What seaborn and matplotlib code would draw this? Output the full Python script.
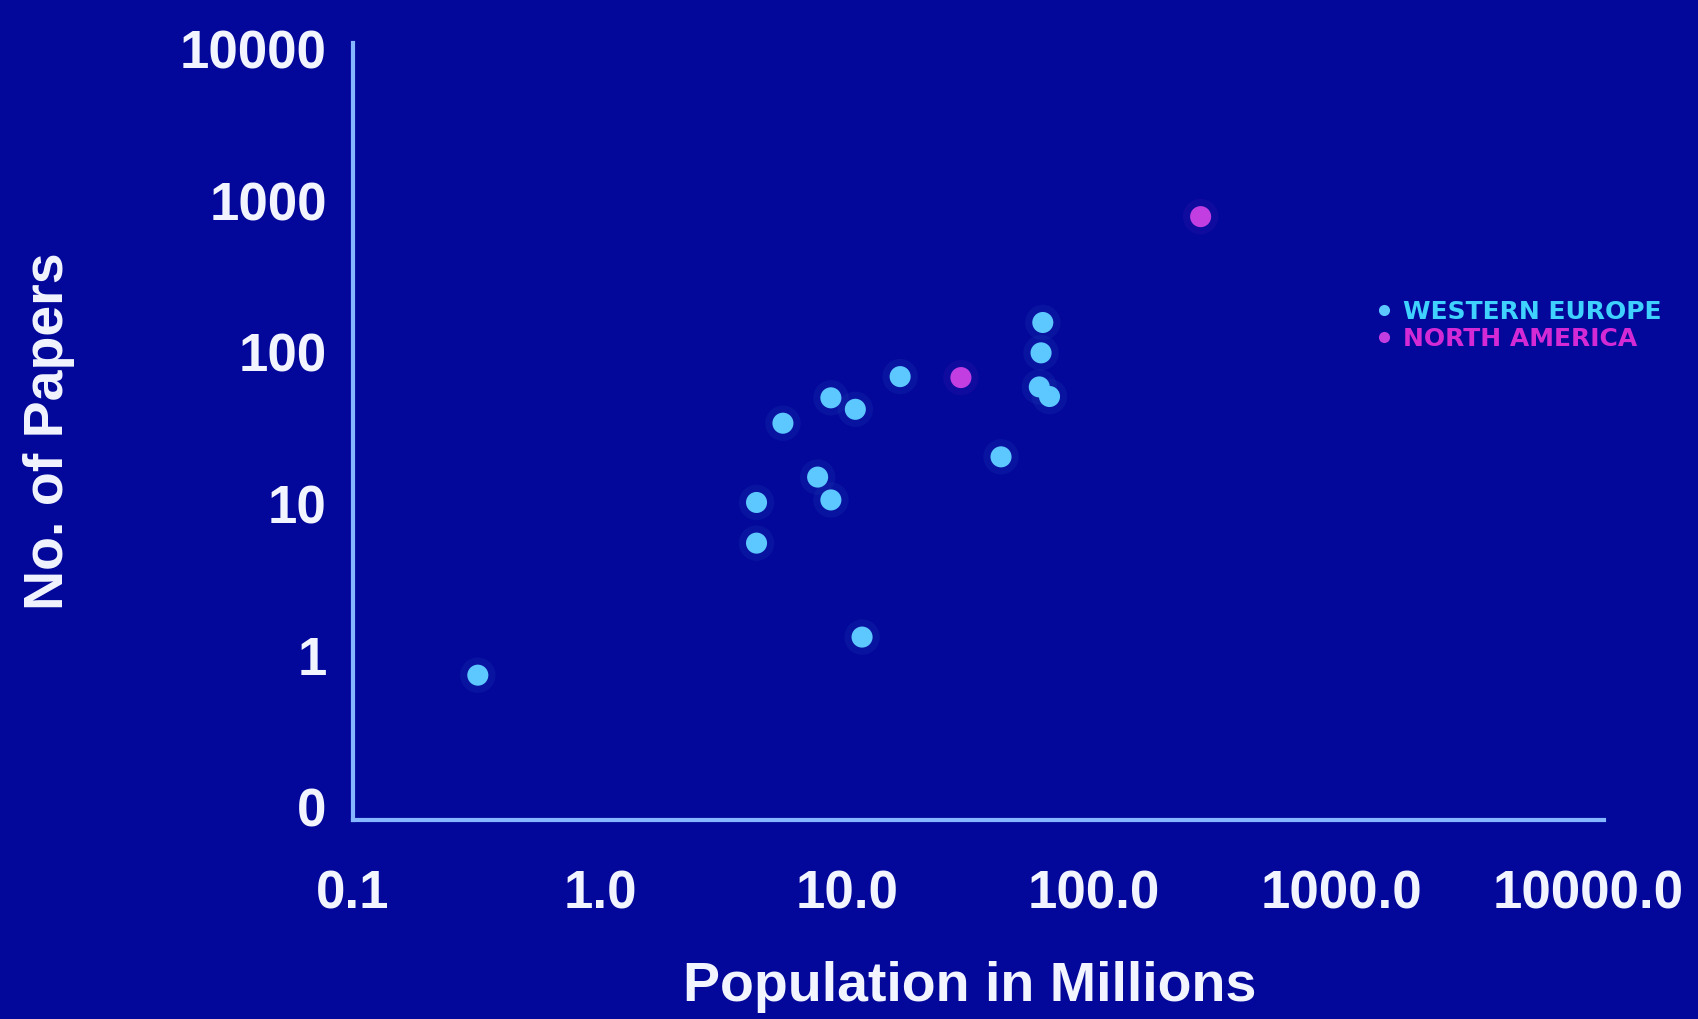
import matplotlib
matplotlib.use("Agg")
import matplotlib.pyplot as plt
import seaborn as sns
import pandas as pd
from matplotlib.lines import Line2D

# values (population in millions, number of papers)
europe_pop = [0.32, 4.3, 4.3, 5.5, 7.6, 8.6, 8.6, 10.8, 11.5, 16.4, 42.0, 62.0, 61.0, 60.0, 66.0]
europe_papers = [0.74, 10.2, 5.5, 34.0, 15.0, 50.0, 10.6, 42.0, 1.32, 69.0, 20.4, 157.0, 99.0, 59.0, 51.0]
america_pop = [28.9, 270.0]
america_papers = [68.0, 784.0]

regions = ["WESTERN EUROPE", "NORTH AMERICA"]
region_colors = ["#5cc8ff", "#c23ee0"]
text_colors = ["#3fd2ff", "#d42ad6"]

x_ticks = [0.1, 1, 10, 100, 1000, 10000]
x_tick_labels = ["0.1", "1.0", "10.0", "100.0", "1000.0", "10000.0"]
y_ticks = [0.1, 1, 10, 100, 1000, 10000]
y_tick_labels = ["0", "1", "10", "100", "1000", "10000"]

bg = "#03089a"
axis_col = "#86b6ff"

df = pd.DataFrame({
    "pop": europe_pop + america_pop,
    "papers": europe_papers + america_papers,
    "region": [regions[0]] * len(europe_pop) + [regions[1]] * len(america_pop),
})
palette = dict(zip(regions, region_colors))

sns.set_style("white")
plt.rcParams["font.family"] = ["Liberation Sans", "DejaVu Sans"]

fig = plt.figure(figsize=(16.99, 10.19), dpi=100, facecolor=bg)
ax = fig.add_axes([0.2078, 0.1953, 0.7363, 0.7625])
ax.set_facecolor(bg)

# faint glow behind each dot, then the dot
sns.scatterplot(data=df, x="pop", y="papers", hue="region", palette=palette,
                s=650, alpha=0.06, edgecolor="none", legend=False, ax=ax)
sns.scatterplot(data=df, x="pop", y="papers", hue="region", palette=palette,
                s=230, edgecolor="none", legend=False, ax=ax)

ax.set_xscale("log")
ax.set_yscale("log")
ax.set_xlim(0.1, 11600)
ax.set_ylim(0.082, 10960)
ax.set_xticks(x_ticks)
ax.set_xticklabels(x_tick_labels)
ax.set_yticks(y_ticks)
ax.set_yticklabels(y_tick_labels)
ax.minorticks_off()

for side in ["top", "right"]:
    ax.spines[side].set_visible(False)
for side in ["left", "bottom"]:
    ax.spines[side].set_color(axis_col)
    ax.spines[side].set_linewidth(3)

ax.tick_params(axis="y", colors=axis_col, length=5, width=2, pad=14,
               labelcolor="#f2f5ff", labelsize=38)
ax.tick_params(axis="x", colors=axis_col, length=0, pad=36,
               labelcolor="#f2f5ff", labelsize=38)
for lab in ax.get_xticklabels() + ax.get_yticklabels():
    lab.set_fontweight("bold")

ax.set_xlabel("Population in Millions", fontsize=40, fontweight="bold", color="#f2f5ff")
ax.set_ylabel("No. of Papers", fontsize=40, fontweight="bold", color="#f2f5ff")
ax.xaxis.set_label_coords(0.493, -0.182)
ax.yaxis.set_label_coords(-0.222, 0.5)

handles = [Line2D([], [], marker="o", linestyle="", markersize=8,
                  markerfacecolor=c, markeredgecolor="none") for c in region_colors]
leg = ax.legend(handles, regions, loc="center left", bbox_to_anchor=(0.803, 0.681),
                bbox_transform=fig.transFigure, frameon=False, handlelength=0.6,
                handletextpad=0.45, labelspacing=0.12, borderpad=0,
                prop={"family": "DejaVu Sans", "weight": "bold", "size": 18})
for txt, c in zip(leg.get_texts(), text_colors):
    txt.set_color(c)

fig.savefig("out.png", dpi=100, facecolor=bg)
